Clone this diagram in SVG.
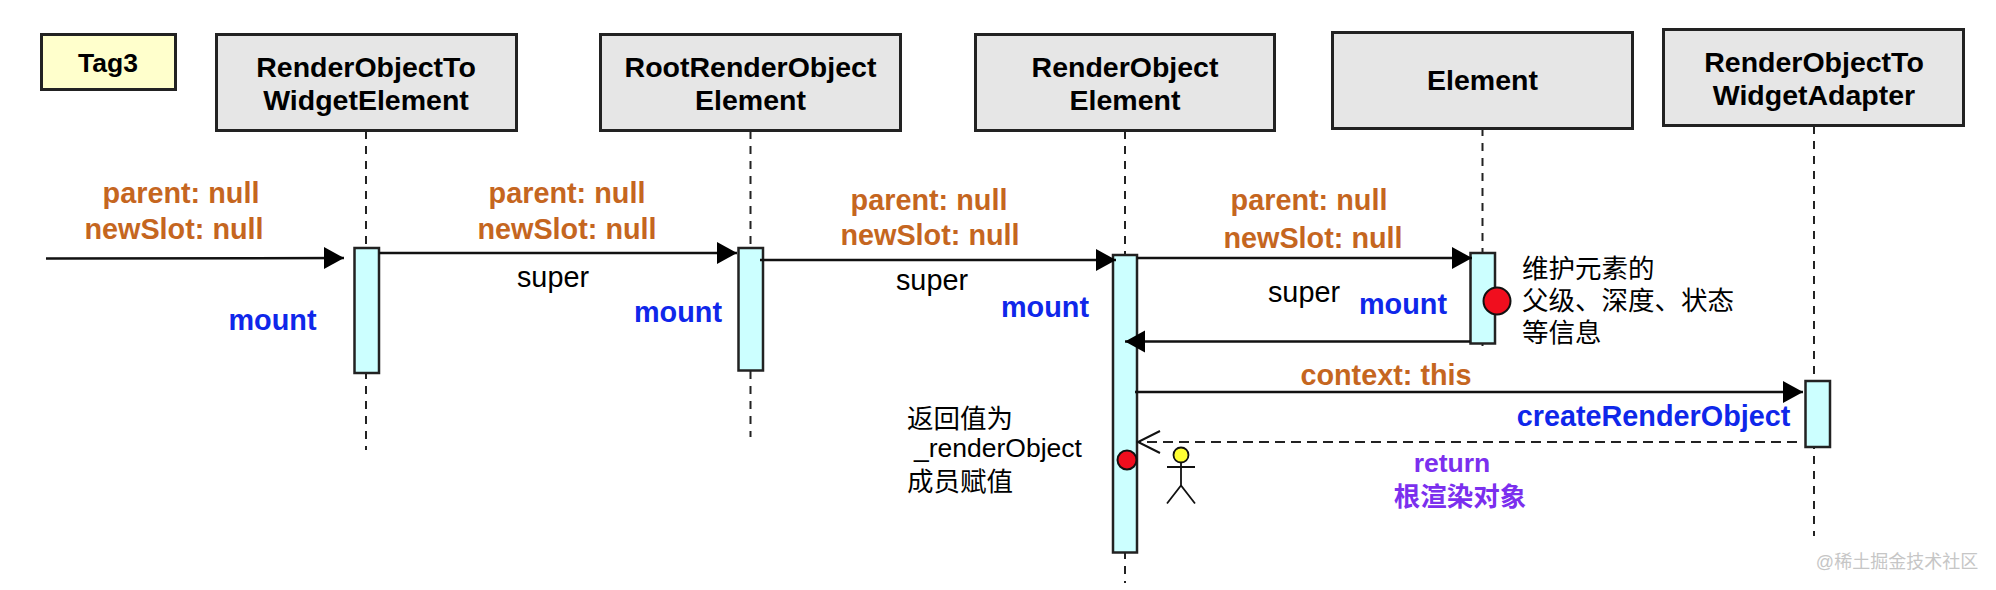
<svg xmlns="http://www.w3.org/2000/svg" width="1996" height="590" viewBox="0 0 1996 590">
<style>
text{font-family:"Liberation Sans",Arial,"Noto Sans CJK SC",sans-serif;font-size:28.800px;fill:#000;text-anchor:middle}
.b{font-weight:700;font-size:28.500px}
.o{font-weight:700;fill:#c5661f}
.m{font-weight:700;fill:#0f27ea}
.p{font-weight:700;fill:#7b2fee;font-size:26.500px}
.c{font-size:26.500px;text-anchor:start}
.box{fill:#e6e6e6;stroke:#222;stroke-width:3}
.tag{fill:#ffffcc;stroke:#222;stroke-width:3}
.act{fill:#ccffff;stroke:#222;stroke-width:2.5}
.life{stroke:#222;stroke-width:2;stroke-dasharray:8 7;fill:none}
.msg{stroke:#111;stroke-width:2.5;fill:none}
.ret{stroke:#222;stroke-width:2;stroke-dasharray:10 6;fill:none}
.dot{fill:#f00e1e;stroke:#111;stroke-width:2}
.stick{stroke:#111;stroke-width:1.8;fill:none}
</style>
<defs>
<marker id="solid" markerUnits="userSpaceOnUse" markerWidth="22" markerHeight="24" refX="20" refY="11" orient="auto"><path d="M0 0L20 11L0 22Z" fill="#000"/></marker>
<marker id="open" markerUnits="userSpaceOnUse" markerWidth="26" markerHeight="28" refX="23" refY="12" orient="auto"><path d="M1 1L23 12L1 23" fill="none" stroke="#111" stroke-width="2"/></marker>
</defs>
<g id="lifelines">
<line class="life" x1="366" y1="131" x2="366" y2="450"/>
<line class="life" x1="750.500" y1="131" x2="750.500" y2="437"/>
<line class="life" x1="1125" y1="131" x2="1125" y2="583"/>
<line class="life" x1="1482.500" y1="128" x2="1482.500" y2="351"/>
<line class="life" x1="1814" y1="126" x2="1814" y2="536"/>
</g>
<g id="tag3"><rect class="tag" x="41.500" y="34.500" width="134" height="55"/><text class="b" x="108" y="71.500" style="font-size:26.500px">Tag3</text></g>
<g id="n1"><rect class="box" x="216.500" y="34.500" width="300" height="96"/><text class="b" x="366" y="77">RenderObjectTo</text><text class="b" x="366" y="110">WidgetElement</text></g>
<g id="n2"><rect class="box" x="600.500" y="34.500" width="300" height="96"/><text class="b" x="750.500" y="77">RootRenderObject</text><text class="b" x="750.500" y="110">Element</text></g>
<g id="n3"><rect class="box" x="975.500" y="34.500" width="299" height="96"/><text class="b" x="1125" y="77">RenderObject</text><text class="b" x="1125" y="110">Element</text></g>
<g id="n4"><rect class="box" x="1332.500" y="32.500" width="300" height="96"/><text class="b" x="1482.500" y="90">Element</text></g>
<g id="n5"><rect class="box" x="1663.500" y="29.500" width="300" height="96"/><text class="b" x="1814" y="71.500">RenderObjectTo</text><text class="b" x="1814" y="105">WidgetAdapter</text></g>
<g id="a1"><rect class="act" x="354.500" y="248" width="24.500" height="125"/></g>
<g id="a2"><rect class="act" x="738.500" y="248" width="24.500" height="122.500"/></g>
<g id="a3"><rect class="act" x="1113" y="255" width="24" height="297.500"/></g>
<g id="a4"><rect class="act" x="1470.500" y="253" width="24.500" height="90.500"/></g>
<g id="a5"><rect class="act" x="1805.500" y="381" width="24.500" height="66"/></g>
<g id="connectors">
<line class="msg" x1="46" y1="258.500" x2="344" y2="258" marker-end="url(#solid)"/>
<line class="msg" x1="379" y1="253" x2="737" y2="253" marker-end="url(#solid)"/>
<line class="msg" x1="760" y1="260" x2="1116" y2="260" marker-end="url(#solid)"/>
<line class="msg" x1="1137" y1="258" x2="1472" y2="258" marker-end="url(#solid)"/>
<line class="msg" x1="1470" y1="341.500" x2="1125" y2="341.500" marker-end="url(#solid)"/>
<line class="msg" x1="1135" y1="392" x2="1803" y2="392" marker-end="url(#solid)"/>
<line class="ret" x1="1797" y1="442" x2="1138" y2="442" marker-end="url(#open)"/>
</g>
<g id="dots"><circle class="dot" cx="1497" cy="301" r="13.500"/><circle class="dot" cx="1127" cy="460" r="9.500"/></g>
<g id="actor"><circle cx="1181" cy="455" r="7.500" fill="#ffff33" stroke="#111" stroke-width="1.800"/><path class="stick" d="M1181 463V485.500M1167 467H1195M1167 503.500L1181 485.500L1195 503.500"/></g>
<g id="labels">
<text class="o" x="181" y="203">parent: null</text><text class="o" x="174" y="239">newSlot: null</text>
<text class="o" x="567" y="203">parent: null</text><text class="o" x="567" y="239">newSlot: null</text>
<text class="o" x="929" y="210">parent: null</text><text class="o" x="930" y="245">newSlot: null</text>
<text class="o" x="1309" y="210">parent: null</text><text class="o" x="1313" y="248">newSlot: null</text>
<text x="553" y="287">super</text><text x="932" y="290">super</text><text x="1304" y="302">super</text>
<text class="m" x="272.500" y="330">mount</text><text class="m" x="678" y="322">mount</text><text class="m" x="1045" y="317">mount</text><text class="m" x="1403" y="314">mount</text>
<text class="o" x="1386" y="385">context: this</text>
<text class="m" x="1653.500" y="426">createRenderObject</text>
<text class="p" x="1452" y="472">return</text><text class="p" x="1460" y="506">根渲染对象</text>
<text class="c" x="907" y="428">返回值为</text><text class="c" x="914" y="457">_renderObject</text><text class="c" x="907" y="491">成员赋值</text>
<text class="c" x="1522" y="278">维护元素的</text><text class="c" x="1522" y="310">父级、深度、状态</text><text class="c" x="1522" y="342">等信息</text>
<text x="1897" y="568" style="font-size:18px;fill:#c6c6c6">@稀土掘金技术社区</text>
</g>
</svg>
